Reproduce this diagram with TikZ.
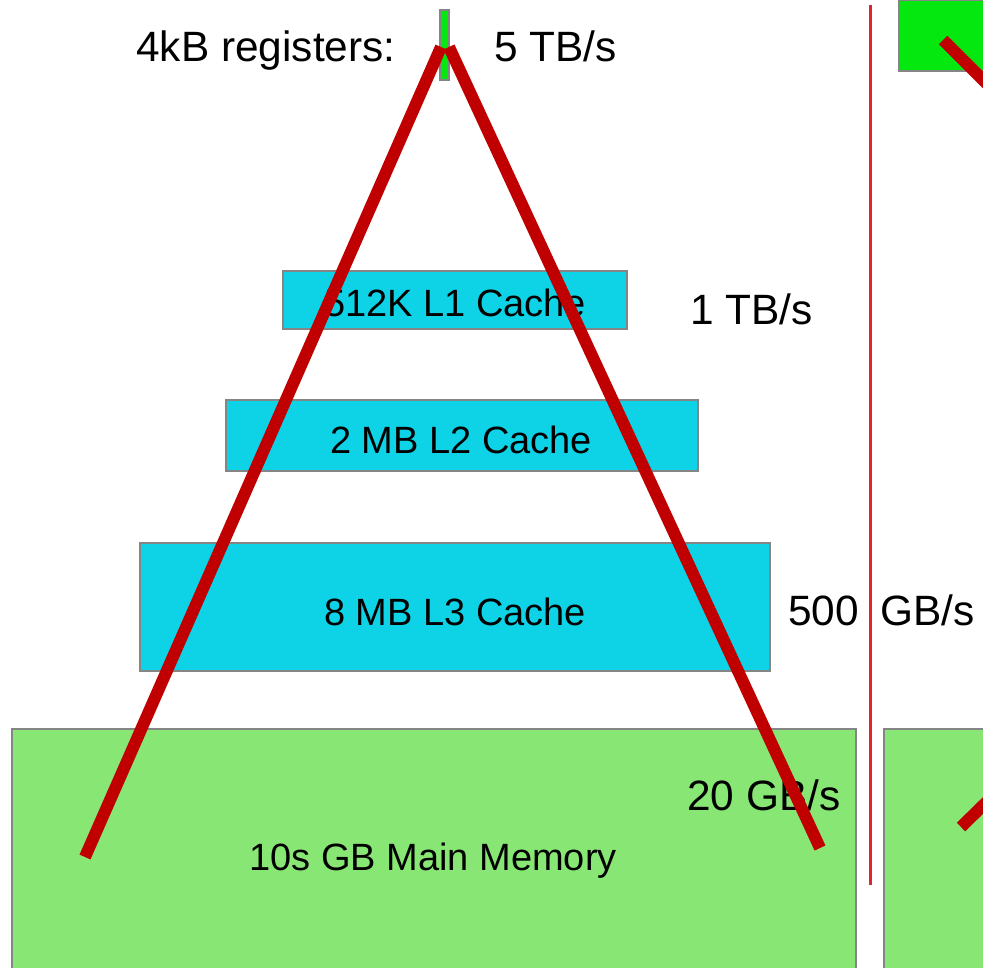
\documentclass[tikz,border=0pt]{standalone}
\usepackage{fontspec}
\setmainfont{Liberation Sans}
\definecolor{cachecyan}{HTML}{0ED2E6}
\definecolor{memgreen}{HTML}{88E774}
\definecolor{reggreen}{HTML}{05E80F}
\definecolor{darkred}{HTML}{C00000}
\definecolor{thinred}{HTML}{E0252F}
\definecolor{boxgray}{HTML}{858585}
\begin{document}
\begin{tikzpicture}[x=0.5pt,y=-0.5pt,
  box/.style={draw=boxgray,line width=0.9pt},
  cache/.style={box,fill=cachecyan},
  mem/.style={box,fill=memgreen},
  reg/.style={box,fill=reggreen},
  label/.style={inner sep=0pt,font=\fontsize{21.2}{25}\selectfont},
  boxtext/.style={inner sep=0pt,font=\fontsize{19}{23}\selectfont},
  thick red/.style={draw=darkred,line width=6pt},
  sep/.style={draw=thinred,line width=1.5pt}]
\useasboundingbox (0,0) rectangle (983,967);
\begin{scope}
\clip (0,0) rectangle (983,967);
% boxes
\draw[reg] (440,10) rectangle (449,80);
\draw[reg] (899,0) rectangle (1010,71);
\draw[cache] (283,271) rectangle (627,329);
\draw[cache] (226,400) rectangle (698,471);
\draw[cache] (140,543) rectangle (770,671);
\draw[mem] (12,729) rectangle (856,1000);
\draw[mem] (884,729) rectangle (1010,1000);
% separator
\coordinate (sepTop) at (870,5);
\coordinate (sepBot) at (870,885);
\draw[sep] (sepTop) -- (sepBot);
% texts
\node[label,anchor=base east] (regl) at (396,62) {4kB registers:};
\node[label,anchor=base west] (regbw) at (494,62) {5 TB/s};
\node[boxtext,anchor=base] (l1) at (455,317) {512K L1 Cache};
\node[label,anchor=base west] (l1bw) at (690,325) {1 TB/s};
\node[boxtext,anchor=base] (l2) at (461,453) {2 MB L2 Cache};
\node[boxtext,anchor=base] (l3) at (455,625) {8 MB L3 Cache};
\node[label,anchor=base west] (l3bw) at (788,625) {500\hspace{0.5em}GB/s};
\node[label,anchor=base west] (membw) at (687,810) {20 GB/s};
\node[boxtext,anchor=base] (mem) at (433,870) {10s GB Main Memory};
% pyramid lines
\coordinate (apexL) at (441,47);
\coordinate (apexR) at (449,47);
\coordinate (leftBase) at (85,857);
\coordinate (rightBase) at (820,848);
\draw[thick red] (leftBase) -- (apexL);
\draw[thick red] (apexR) -- (rightBase);
\coordinate (r1a) at (943,40);
\coordinate (r1b) at (1010,107);
\draw[thick red] (r1a) -- (r1b);
\coordinate (r2a) at (961,827);
\coordinate (r2b) at (1010,779);
\draw[thick red] (r2a) -- (r2b);
\end{scope}
\end{tikzpicture}
\end{document}
